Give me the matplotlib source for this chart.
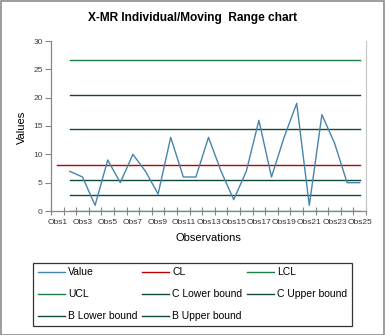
import numpy as np
import matplotlib
matplotlib.use('Agg')
import matplotlib.pyplot as plt
from matplotlib.patches import Rectangle

plt.rcParams['font.family'] = ['Liberation Sans', 'DejaVu Sans']

# observations Obs1..Obs25; measured values start at Obs2
categories = [f'Obs{i}' for i in range(1, 26)]
values = [7, 6, 1, 9, 5, 10, 7, 3, 13, 6, 6, 13, 7, 2, 7, 16, 6, 13, 19, 1, 17, 12, 5, 5]

cl = 8.2
lcl = 0.0
ucl = 26.7
c_lower = 5.4
c_upper = 14.4
b_lower = 2.8
b_upper = 20.5

val_color = '#4585ad'
red = '#c00000'
green = '#1d7f45'
dark = '#10493a'

fig = plt.figure(figsize=(3.85, 3.35), dpi=100)
ax = fig.add_axes([51/385, 1-211/335, 315/385, 170/335])

x_all = np.arange(1, 26)
x_val = np.arange(2, 26)

def hline(level, xs, color):
  return ax.plot(xs, [level]*len(xs), color=color, lw=1.0)[0]

h_value, = ax.plot(x_val, values, color=val_color, lw=1.0)
h_cl = hline(cl, x_all, red)
h_lcl = hline(lcl, x_val, green)
h_ucl = hline(ucl, x_val, green)
h_clo = hline(c_lower, x_val, dark)
h_cup = hline(c_upper, x_val, dark)
h_blo = hline(b_lower, x_val, dark)
h_bup = hline(b_upper, x_val, dark)
h_value.set_zorder(5)

ax.set_xlim(0.5, 25.5)
ax.set_ylim(0, 30)
ax.set_yticks(np.arange(0, 31, 5))
ax.tick_params(axis='y', labelsize=6, colors='#404040', length=4, width=0.8, pad=2)
ax.tick_params(axis='y', color='#868686')

# labels on every other category, tick marks between categories
ax.set_xticks(x_all[::2])
ax.set_xticklabels(categories[::2])
ax.tick_params(axis='x', which='major', length=0, labelsize=6, labelcolor='#333333', pad=6)
ax.set_xticks(np.arange(0.5, 26, 1), minor=True)
ax.tick_params(axis='x', which='minor', direction='inout', length=6, width=0.8, color='#868686')

for s in ['left', 'bottom']:
  ax.spines[s].set_color('#868686')
  ax.spines[s].set_linewidth(0.9)
ax.spines['right'].set_color('#c8c8c8')
ax.spines['right'].set_linewidth(0.9)
ax.spines['top'].set_visible(False)

fig.text(0.5, 1-18/335, 'X-MR Individual/Moving  Range chart', ha='center', va='center',
         fontsize=8.6, fontweight='bold')
fig.text(22/385, 1-127/335, 'Values', rotation=90, ha='center', va='center', fontsize=8)
fig.text(208/385, 1-238/335, 'Observations', ha='center', va='center', fontsize=8)

# legend filled column by column, so order the entries to read row-wise
handles = [h_value, h_ucl, h_blo, h_cl, h_clo, h_bup, h_lcl, h_cup]
labels = ['Value', 'UCL', 'B Lower bound', 'CL', 'C Lower bound', 'B Upper bound',
          'LCL', 'C Upper bound']
leg = fig.legend(handles, labels, ncol=3, loc='lower left',
                 bbox_to_anchor=(33/385, 9/335, 319/385, 64/335), mode='expand',
                 fontsize=7.5, frameon=True, fancybox=False, borderaxespad=0,
                 handlelength=2.6, handletextpad=0.3, labelspacing=1.15,
                 borderpad=0.45, columnspacing=0.2)
leg.get_frame().set_edgecolor('black')
leg.get_frame().set_linewidth(0.9)

fig.patches.append(Rectangle((0.5/385, 0.5/335), 383.5/385, 333.5/335, transform=fig.transFigure,
                             fill=False, edgecolor='#8c8c8c', lw=1.2))

fig.savefig('out.png', dpi=100)
